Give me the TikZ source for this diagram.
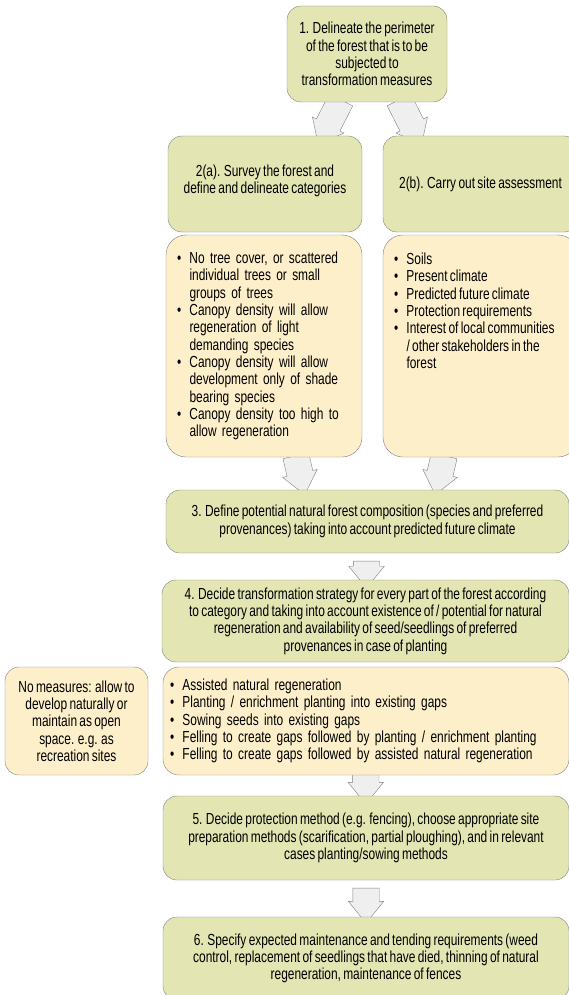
\documentclass[tikz,border=0pt]{standalone}
\usepackage{fontspec}
\setmainfont{Liberation Sans}[FakeStretch=0.745,WordSpace=0.7]
\usetikzlibrary{shapes.arrows,calc,backgrounds}

\definecolor{stepgreen}{HTML}{E3E6B2}
\definecolor{listcream}{HTML}{FDEFC9}
\definecolor{edgegray}{HTML}{808080}
\definecolor{arrowgray}{HTML}{EFEFEF}

\newcommand\itm{\makebox[12.5pt][l]{\textbullet}}
\newcommand\cnt{\hspace*{12.5pt}}

\begin{document}
\begin{tikzpicture}[x=1pt,y=1pt,
	font=\fontsize{16}{17.3}\selectfont,
	stepbox/.style={draw=edgegray, fill=stepgreen, rounded corners=14pt, align=center, inner sep=0pt},
	listbox/.style={draw=edgegray, fill=listcream, rounded corners=20pt, inner sep=0pt},
	fatarr/.style={single arrow, draw=edgegray, fill=arrowgray, inner xsep=0pt, inner ysep=13pt,
		single arrow head extend=4.5pt, single arrow tip angle=78, outer sep=0pt}]
	\useasboundingbox (0,0) rectangle (569,-995);
	% steps 1 and 2
	\node[stepbox, minimum width=160pt, minimum height=96pt] (b1) at (367,-54)
		{1. Delineate the perimeter\\of the forest that is to be\\subjected to\\transformation measures};
	\node[stepbox, minimum width=194pt, minimum height=96pt, text depth=10pt] (b2a) at (265,-184)
		{2(a). Survey the forest and\\define and delineate categories};
	\node[stepbox, minimum width=195pt, minimum height=96pt] (b2b) at (480.5,-184)
		{2(b). Carry out site assessment};
	\node[listbox, minimum width=196pt, minimum height=222pt, text width=174pt, align=left] (la) at (264,-346)
		{\itm No tree cover, or scattered\\
		\cnt individual trees or small\\
		\cnt groups of trees\\
		\itm Canopy density will allow\\
		\cnt regeneration of light\\
		\cnt demanding species\\
		\itm Canopy density will allow\\
		\cnt development only of shade\\
		\cnt bearing species\\
		\itm Canopy density too high to\\
		\cnt allow regeneration};
	\node[listbox, minimum width=195pt, minimum height=222pt] (lb) at (480.5,-346)
		{\parbox[t][186pt][t]{173pt}{\raggedright
		\itm Soils\\
		\itm Present climate\\
		\itm Predicted future climate\\
		\itm Protection requirements\\
		\itm Interest of local communities\\
		\cnt / other stakeholders in the\\
		\cnt forest}};
	% steps 3 and 4
	\node[stepbox, minimum width=403pt, minimum height=63pt] (b3) at (367.5,-521.5)
		{3. Define potential natural forest composition (species and preferred\\provenances) taking into account predicted future climate};
	\node[stepbox, minimum width=407pt, minimum height=82pt] (b4) at (365.5,-621)
		{4. Decide transformation strategy for every part of the forest according\\to category and taking into account existence of / potential for natural\\regeneration and availability of seed/seedlings of preferred\\provenances in case of planting};
	\node[stepbox, fill=listcream, minimum width=143pt, minimum height=108pt] (nm) at (76.5,-721)
		{No measures: allow to\\develop naturally or\\maintain as open\\space. e.g. as\\recreation sites};
	\node[listbox, rounded corners=16pt, minimum width=406pt, minimum height=108pt, text width=392pt, align=left] (lm) at (366,-721)
		{\itm Assisted natural regeneration\\
		\itm Planting / enrichment planting into existing gaps\\
		\itm Sowing seeds into existing gaps\\
		\itm Felling to create gaps followed by planting / enrichment planting\\
		\itm Felling to create gaps followed by assisted natural regeneration};
	% steps 5 and 6
	\node[stepbox, minimum width=406pt, minimum height=84pt] (b5) at (366,-838)
		{5. Decide protection method (e.g. fencing), choose appropriate site\\preparation methods (scarification, partial ploughing), and in relevant\\cases planting/sowing methods};
	\node[stepbox, minimum width=406pt, minimum height=83pt] (b6) at (366,-958.5)
		{6. Specify expected maintenance and tending requirements (weed\\control, replacement of seedlings that have died, thinning of natural\\regeneration, maintenance of fences};
	% arrows
	\begin{scope}[on background layer]
		\node[fatarr, minimum height=50pt, rotate=-117] (a1) at ($(b1.south)+(-33.7,-12.7)$) {};
		\node[fatarr, minimum height=50pt, rotate=-63] (a2) at ($(b1.south)+(39.6,-12.7)$) {};
		\node[fatarr, minimum height=40pt, rotate=-77] (a3) at ($(b3.north)+(-69,22.5)$) {};
		\node[fatarr, minimum height=40pt, rotate=-103] (a4) at ($(b3.north)+(74,22.5)$) {};
		\node[fatarr, minimum height=27pt, rotate=-90] (a5) at ($(b3.south)!.5!(b4.north)$) {};
		\node[fatarr, minimum height=134pt, rotate=-90] (a6) at ($(b4.south)!.5!(b5.north)$) {};
		\node[fatarr, minimum height=35pt, rotate=-90] (a7) at ($(b5.south)!.5!(b6.north)+(0,1)$) {};
	\end{scope}
\end{tikzpicture}
\end{document}
